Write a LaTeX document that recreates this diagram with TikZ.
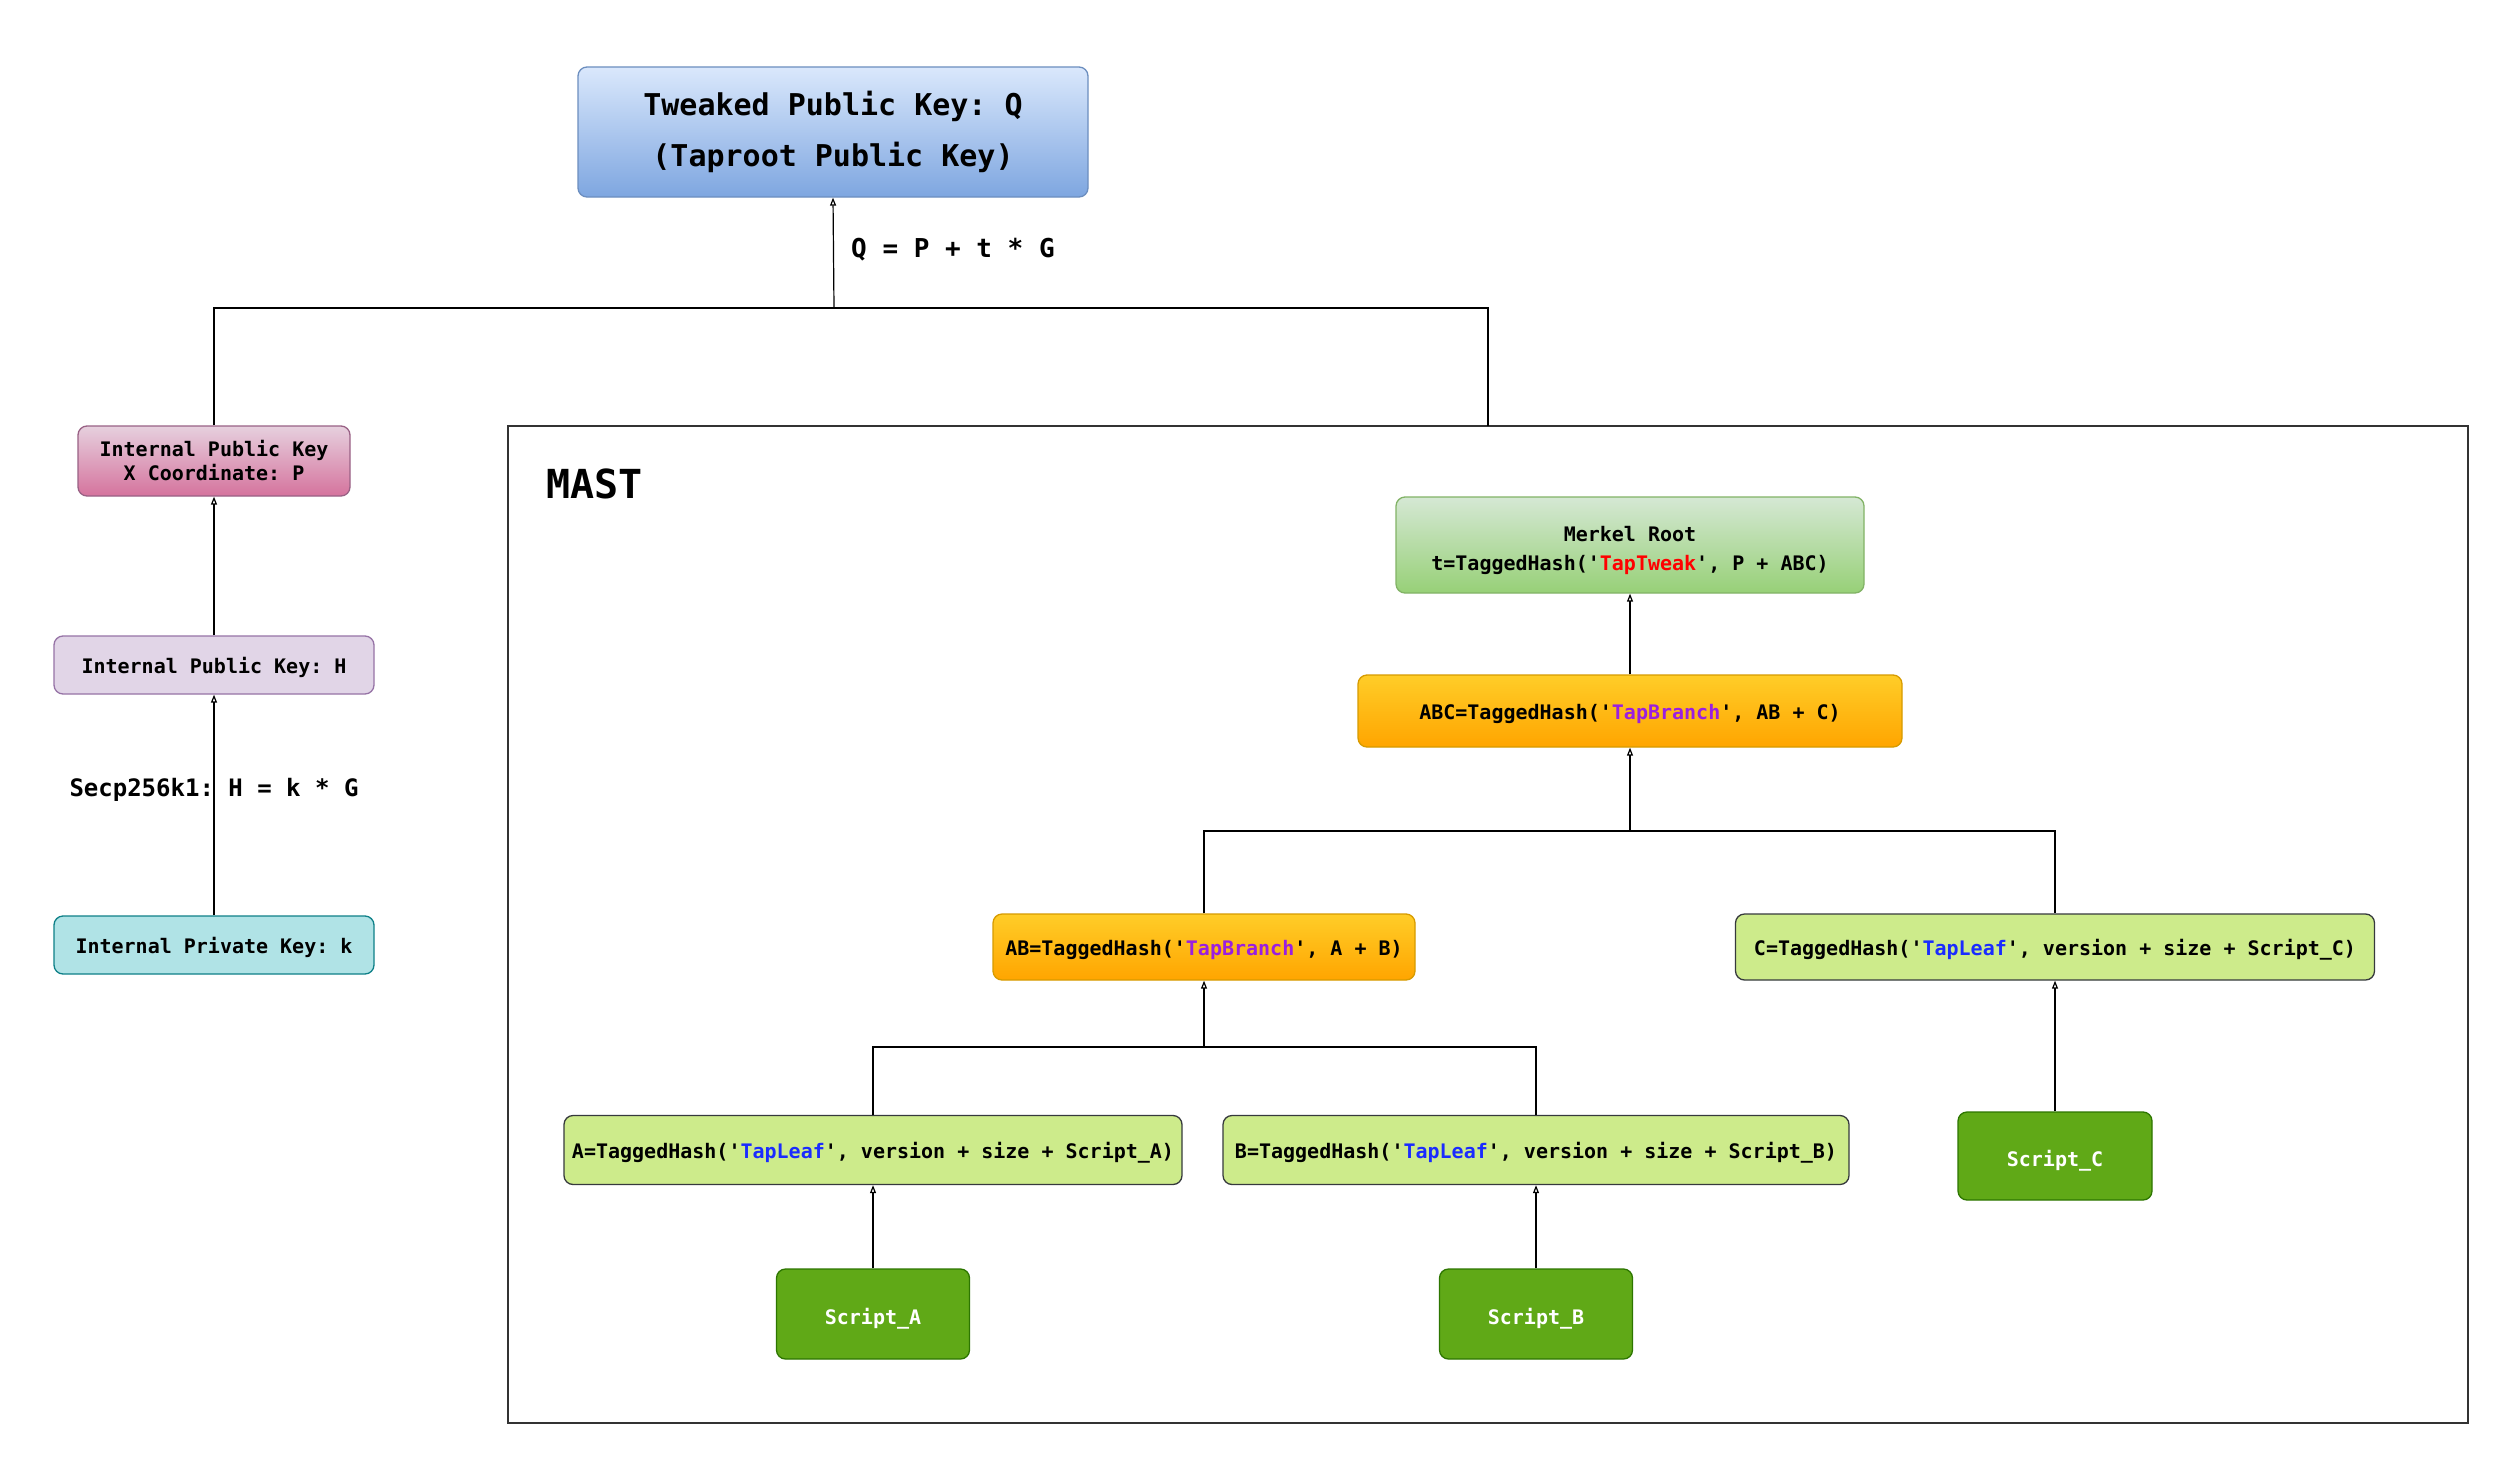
\documentclass[tikz,border=0pt]{standalone}
\usepackage{fontspec}
\setmonofont{DejaVu Sans Mono}
\usetikzlibrary{arrows.meta,shadings}
\definecolor{tapred}{HTML}{FF0000}
\definecolor{tappurple}{HTML}{9A1FE0}
\definecolor{tapblue}{HTML}{1A2BFF}
\definecolor{blueTop}{HTML}{DAE8FC}
\definecolor{blueBot}{HTML}{7EA6E0}
\definecolor{blueLine}{HTML}{6C8EBF}
\definecolor{pinkTop}{HTML}{E6D0DE}
\definecolor{pinkBot}{HTML}{D5739D}
\definecolor{pinkLine}{HTML}{996185}
\definecolor{lilac}{HTML}{E1D5E7}
\definecolor{lilacLine}{HTML}{9673A6}
\definecolor{cyanFill}{HTML}{B0E3E6}
\definecolor{cyanLine}{HTML}{0E8088}
\definecolor{greenTop}{HTML}{D5E8D4}
\definecolor{greenBot}{HTML}{97D077}
\definecolor{greenLine}{HTML}{82B366}
\definecolor{orTop}{HTML}{FFCD28}
\definecolor{orBot}{HTML}{FFA500}
\definecolor{orLine}{HTML}{D79B00}
\definecolor{leafFill}{HTML}{CDEB8B}
\definecolor{leafLine}{HTML}{36393D}
\definecolor{scriptFill}{HTML}{60A917}
\definecolor{scriptLine}{HTML}{2D7600}
\newcommand{\lowr}[2]{\raisebox{-#1pt}[\height][\depth]{#2}}
\tikzset{
  box/.style={rounded corners=9pt, line width=1.3pt, align=center, inner sep=0pt,
    font=\ttfamily\bfseries\fontsize{20}{24}\selectfont},
  tweakbox/.style={box, top color=blueTop, bottom color=blueBot, draw=blueLine,
    font=\ttfamily\bfseries\fontsize{30}{51}\selectfont},
  pinkbox/.style={box, top color=pinkTop, bottom color=pinkBot, draw=pinkLine},
  lilacbox/.style={box, fill=lilac, draw=lilacLine},
  cyanbox/.style={box, fill=cyanFill, draw=cyanLine},
  rootbox/.style={box, top color=greenTop, bottom color=greenBot, draw=greenLine,
    font=\ttfamily\bfseries\fontsize{20}{29}\selectfont},
  branchbox/.style={box, top color=orTop, bottom color=orBot, draw=orLine},
  leafbox/.style={box, fill=leafFill, draw=leafLine},
  scriptbox/.style={box, fill=scriptFill, draw=scriptLine, text=white},
  arr/.style={line width=1.2pt, -{Triangle[open, length=8pt, width=6pt]}},
  conn/.style={line width=1.2pt},
  lbl/.style={font=\ttfamily\bfseries\fontsize{24}{28}\selectfont, inner sep=0pt}
}
\begin{document}
\begin{tikzpicture}[x=1pt,y=-1pt]
\useasboundingbox (0,0) rectangle (2519,1477);
\fill[white] (0,0) rectangle (2519,1477);

% MAST frame
\node[draw=black!80, line width=1.3pt, minimum width=1960pt, minimum height=997pt, inner sep=0pt] (mast) at (1488,924.5) {};
\node[anchor=west, font=\ttfamily\bfseries\fontsize{40}{44}\selectfont, inner sep=0pt] (mastlbl) at (546,484) {MAST};

% left column
\node[tweakbox, minimum width=510pt, minimum height=130pt] (tweak) at (833,132) {Tweaked Public Key: Q\\(Taproot Public Key)};
\node[pinkbox, minimum width=272pt, minimum height=70pt] (pinkP) at (214,461) {Internal Public Key\\X Coordinate: P};
\node[lilacbox, minimum width=320pt, minimum height=58pt] (pubH) at (214,665) {\lowr{2}{Internal Public Key: H}};
\node[cyanbox, minimum width=320pt, minimum height=58pt] (priv) at (214,945) {\lowr{2}{Internal Private Key: k}};

% MAST tree
\node[rootbox, minimum width=468pt, minimum height=96pt] (root) at (1630,545) {\rule{0pt}{26pt}Merkel Root\\t=TaggedHash('\textcolor{tapred}{TapTweak}', P + ABC)};
\node[branchbox, minimum width=544pt, minimum height=72pt] (abc) at (1630,711) {\lowr{3}{ABC=TaggedHash('\textcolor{tappurple}{TapBranch}', AB + C)}};
\node[branchbox, minimum width=422pt, minimum height=66pt] (ab) at (1204,947) {\lowr{3}{AB=TaggedHash('\textcolor{tappurple}{TapBranch}', A + B)}};
\node[leafbox, minimum width=639pt, minimum height=66pt] (c) at (2055,947) {\lowr{3}{C=TaggedHash('\textcolor{tapblue}{TapLeaf}', version + size + Script\_C)}};
\node[leafbox, minimum width=618pt, minimum height=69pt] (a) at (873,1150) {\lowr{3}{A=TaggedHash('\textcolor{tapblue}{TapLeaf}', version + size + Script\_A)}};
\node[leafbox, minimum width=626pt, minimum height=69pt] (b) at (1536,1150) {\lowr{3}{B=TaggedHash('\textcolor{tapblue}{TapLeaf}', version + size + Script\_B)}};
\node[scriptbox, minimum width=193pt, minimum height=90pt] (sa) at (873,1314) {\lowr{5}{Script\_A}};
\node[scriptbox, minimum width=193pt, minimum height=90pt] (sb) at (1536,1314) {\lowr{5}{Script\_B}};
\node[scriptbox, minimum width=194pt, minimum height=88pt] (sc) at (2055,1156) {\lowr{5}{Script\_C}};

% top connectors
\coordinate (jt) at (834,308);
\coordinate (mtop) at (1488,426);
\draw[conn] (pinkP.north) |- (jt) -| (mtop);
\draw[arr] (jt) -- (tweak.south);
\node[lbl, anchor=west, font=\ttfamily\bfseries\fontsize{26}{30}\selectfont] (qlbl) at (851,250) {Q = P + t * G};

\draw[arr] (pubH.north) -- (pinkP.south);
\draw[arr] (priv.north) -- (pubH.south);
\node[lbl] (secp) at (214,790) {Secp256k1: H = k * G};

% tree connectors
\draw[arr] (abc.north) -- (root.south);
\coordinate (j1) at (1630,831);
\draw[conn] (ab.north) |- (j1) -| (c.north);
\draw[arr] (j1) -- (abc.south);
\coordinate (j2) at (1204,1047);
\draw[conn] (a.north) |- (j2) -| (b.north);
\draw[arr] (j2) -- (ab.south);
\draw[arr] (sa.north) -- (a.south);
\draw[arr] (sb.north) -- (b.south);
\draw[arr] (sc.north) -- (c.south);
\end{tikzpicture}
\end{document}
